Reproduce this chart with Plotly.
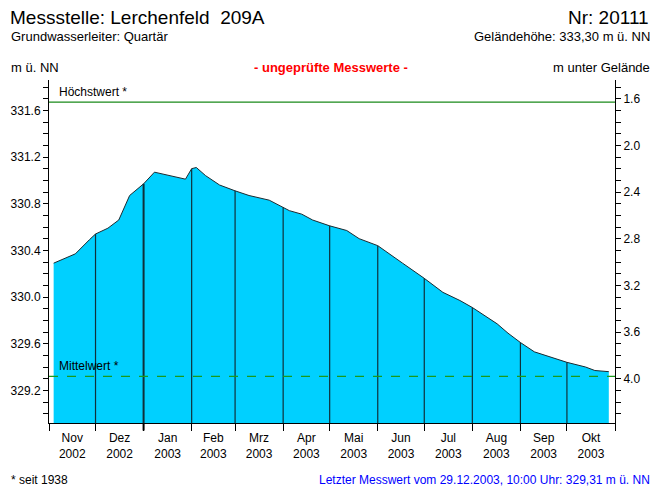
import numpy as np
import pandas as pd
import plotly.graph_objects as go

# ---- data ----
dates = ["2002-11-04", "2002-11-18", "2002-11-27", "2002-12-01", "2002-12-09", "2002-12-16",
         "2002-12-23", "2003-01-01", "2003-01-08", "2003-01-28", "2003-02-01", "2003-02-04",
         "2003-02-10", "2003-02-19", "2003-03-01", "2003-03-10", "2003-03-23", "2003-04-01",
         "2003-04-05", "2003-04-13", "2003-04-20", "2003-05-01", "2003-05-12", "2003-05-20",
         "2003-06-01", "2003-06-17", "2003-07-01", "2003-07-13", "2003-07-24", "2003-08-01",
         "2003-08-10", "2003-08-17", "2003-08-24", "2003-09-01", "2003-09-10", "2003-09-20",
         "2003-10-01", "2003-10-13", "2003-10-19", "2003-10-28"]
levels = [330.29, 330.37, 330.49, 330.54, 330.59, 330.66,
          330.87, 330.97, 331.07, 331.01, 331.10, 331.11,
          331.04, 330.96, 330.91, 330.87, 330.83, 330.77,
          330.74, 330.71, 330.66, 330.61, 330.57, 330.50,
          330.44, 330.29, 330.16, 330.04, 329.97, 329.91,
          329.83, 329.77, 329.69, 329.61, 329.53, 329.49,
          329.44, 329.40, 329.37, 329.36]

month_starts = ["2002-11-01", "2002-12-01", "2003-01-01", "2003-02-01", "2003-03-01", "2003-04-01",
                "2003-05-01", "2003-06-01", "2003-07-01", "2003-08-01", "2003-09-01", "2003-10-01",
                "2003-11-01"]
month_labels = ["Nov<br>2002", "Dez<br>2002", "Jan<br>2003", "Feb<br>2003", "Mrz<br>2003",
                "Apr<br>2003", "Mai<br>2003", "Jun<br>2003", "Jul<br>2003", "Aug<br>2003",
                "Sep<br>2003", "Okt<br>2003"]

GELAENDE = 333.30
HOECHST = 331.67
MITTEL = 329.32
Y_MIN, Y_MAX = 328.92, 331.86

FONT = "Liberation Sans, Arial, sans-serif"
FILL = "rgb(0,208,255)"

ms = pd.to_datetime(month_starts)
mids = [ms[i] + (ms[i + 1] - ms[i]) / 2 for i in range(len(ms) - 1)]
d = pd.to_datetime(dates)
dnum = d.astype("int64").to_numpy()

fig = go.Figure()
fig.add_trace(go.Scatter(x=d, y=levels, mode="lines", fill="tozeroy",
                         fillcolor=FILL, line=dict(color="#1b2a30", width=1),
                         showlegend=False, hoverinfo="skip"))

# vertical month separators within the filled area
for m in ms[1:-1]:
    yv = float(np.interp(m.value, dnum, levels))
    w = 2 if m.month == 1 else 1.2
    fig.add_trace(go.Scatter(x=[m, m], y=[Y_MIN, yv], mode="lines",
                             line=dict(color="#10303a", width=w),
                             showlegend=False, hoverinfo="skip"))

# dummy trace for right axis
fig.add_trace(go.Scatter(x=[ms[0]], y=[GELAENDE - levels[0]], yaxis="y2",
                         mode="markers", marker=dict(opacity=0), showlegend=False,
                         hoverinfo="skip"))

fig.add_shape(type="line", xref="paper", x0=0, x1=1, yref="y", y0=HOECHST, y1=HOECHST,
              line=dict(color="#1a8a1a", width=1.2))
fig.add_shape(type="line", xref="paper", x0=0, x1=1, yref="y", y0=MITTEL, y1=MITTEL,
              line=dict(color="#1a9a1a", width=1.2, dash="dash"))

# thicker year-boundary tick
for m in ms:
    if m.month == 1:
        fig.add_shape(type="line", xref="x", x0=m, x1=m, yref="paper", y0=-0.022, y1=0,
                      line=dict(color="black", width=2))

ann = [
    dict(text="Messstelle: Lerchenfeld  209A", x=8, y=17, xanchor="left", size=19),
    dict(text="Nr: 20111", x=651, y=17, xanchor="right", size=19),
    dict(text="Grundwasserleiter: Quartär", x=9, y=37, xanchor="left", size=13),
    dict(text="Geländehöhe: 333,30 m ü. NN", x=652, y=37, xanchor="right", size=13),
    dict(text="m ü. NN", x=9, y=68, xanchor="left", size=13),
    dict(text="m unter Gelände", x=652, y=68, xanchor="right", size=13),
    dict(text="<b>- ungeprüfte Messwerte -</b>", x=331, y=68, xanchor="center", size=13,
         color="#ff0000"),
    dict(text="* seit 1938", x=9, y=480, xanchor="left", size=12),
    dict(text="Letzter Messwert vom 29.12.2003, 10:00 Uhr: 329,31 m ü. NN", x=652, y=480,
         xanchor="right", size=12, color="#0000ff"),
]
W, H = 656, 488
for a in ann:
    fig.add_annotation(text=a["text"], xref="paper", yref="paper",
                       x=(a["x"] - 49) / (615 - 49), y=(423 - a["y"]) / (423 - 80),
                       xanchor=a["xanchor"], yanchor="middle", showarrow=False,
                       font=dict(family=FONT, size=a["size"], color=a.get("color", "black")))

fig.add_annotation(text="Höchstwert *", xref="paper", x=0.015, yref="y", y=HOECHST,
                   xanchor="left", yanchor="bottom", showarrow=False, yshift=1,
                   font=dict(family=FONT, size=12, color="black"))
fig.add_annotation(text="Mittelwert *", xref="paper", x=0.015, yref="y", y=MITTEL,
                   xanchor="left", yanchor="bottom", showarrow=False, yshift=1,
                   font=dict(family=FONT, size=12, color="black"))

fig.update_layout(
    width=W, height=H,
    margin=dict(l=49, r=41, t=80, b=65),
    paper_bgcolor="white", plot_bgcolor="white",
    font=dict(family=FONT, size=12, color="black"),
    xaxis=dict(range=[ms[0], ms[-1]], tickmode="array", tickvals=list(ms),
               ticktext=[""] * len(ms), ticks="outside", ticklen=7, tickcolor="black",
               showline=True, linecolor="black", linewidth=1, showgrid=False,
               zeroline=False, fixedrange=True),
    xaxis2=dict(range=[ms[0], ms[-1]], overlaying="x", side="bottom", anchor="y",
                tickmode="array", tickvals=mids, ticktext=month_labels, ticks="",
                ticklabelstandoff=6,
                showline=False, showgrid=False, zeroline=False,
                tickfont=dict(family=FONT, size=12, color="black")),
    yaxis=dict(range=[Y_MIN, Y_MAX], tick0=330.0, dtick=0.4, tickformat=".1f",
               ticks="outside", ticklen=5, tickcolor="black",
               minor=dict(dtick=0.1, tick0=330.0, ticks="outside", ticklen=5, tickcolor="black"),
               showline=True, linecolor="black", linewidth=1, showgrid=False,
               zeroline=False, tickfont=dict(family=FONT, size=12)),
    yaxis2=dict(range=[GELAENDE - Y_MIN, GELAENDE - Y_MAX], overlaying="y", side="right",
                tick0=2.0, dtick=0.4, tickformat=".1f",
                ticks="outside", ticklen=5, tickcolor="black",
                minor=dict(dtick=0.1, tick0=2.0, ticks="outside", ticklen=5, tickcolor="black"),
                showline=True, linecolor="black", linewidth=1, showgrid=False,
                zeroline=False, tickfont=dict(family=FONT, size=12)),
)

# put the label axis on the traces so it is drawn
fig.add_trace(go.Scatter(x=[mids[0]], y=[levels[0]], xaxis="x2", mode="markers",
                         marker=dict(opacity=0), showlegend=False, hoverinfo="skip"))

fig.write_html("out.html", config={"displayModeBar": False},
               post_script="document.body.style.margin='0';")
